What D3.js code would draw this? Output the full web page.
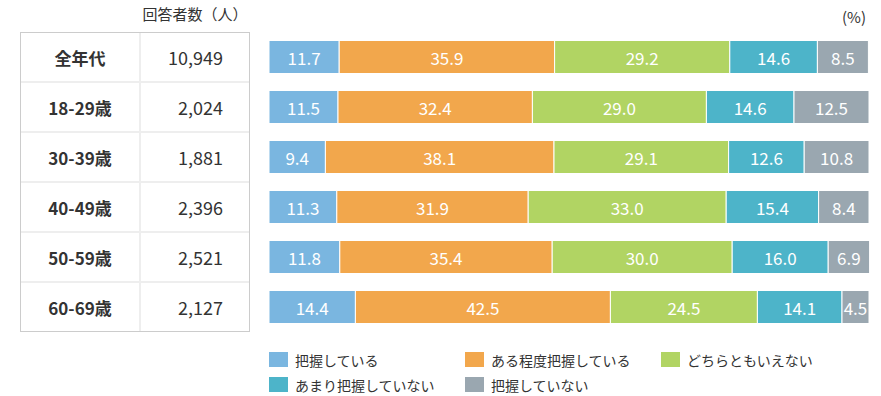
<!DOCTYPE html>
<html><head><meta charset="utf-8">
<script src="https://cdn.jsdelivr.net/npm/d3@7"></script>
<style>body{margin:0;background:#fff;} svg{display:block;font-family:"Noto Sans CJK JP","Noto Sans",sans-serif;}</style>
</head><body>
<svg id="c" width="881" height="396"></svg>
<script>
const categories = ["全年代","18-29歳","30-39歳","40-49歳","50-59歳","60-69歳"];
const respondents = ["10,949","2,024","1,881","2,396","2,521","2,127"];
const seriesNames = ["把握している","ある程度把握している","どちらともいえない","あまり把握していない","把握していない"];
const s1 = [11.7,11.5,9.4,11.3,11.8,14.4];
const s2 = [35.9,32.4,38.1,31.9,35.4,42.5];
const s3 = [29.2,29.0,29.1,33.0,30.0,24.5];
const s4 = [14.6,14.6,12.6,15.4,16.0,14.1];
const s5 = [8.5,12.5,10.8,8.4,6.9,4.5];
const colors = ["#7ab6e0","#f2a74c","#b1d463","#4db4c9","#9aa7b0"];

const svg = d3.select("#c");
const series = [s1,s2,s3,s4,s5];
const x = d3.scaleLinear().domain([0,100]).range([269,869]);
const y = d3.scaleBand().domain(categories).range([32,332]).paddingInner(0.34).paddingOuter(0.17);

// table
const rowH = 50, tTop = 32;
const tbl = svg.append("g");
tbl.append("rect").attr("x",20.5).attr("y",32.5).attr("width",229).attr("height",299).attr("fill","#fff").attr("stroke","#cccccc");
categories.forEach((c,i)=>{
  if(i>0) tbl.append("line").attr("x1",21).attr("x2",249).attr("y1",tTop+i*rowH).attr("y2",tTop+i*rowH).attr("stroke","#eeeeee").attr("stroke-width",2);
});
tbl.append("line").attr("x1",140).attr("x2",140).attr("y1",33).attr("y2",331).attr("stroke","#eeeeee").attr("stroke-width",2);
categories.forEach((c,i)=>{
  const cy = tTop + i*rowH + rowH/2;
  tbl.append("text").attr("x",80).attr("y",cy).attr("text-anchor","middle").attr("dominant-baseline","central")
    .attr("font-size",17).attr("font-weight","bold").attr("fill","#333").text(c);
  tbl.append("text").attr("x",223).attr("y",cy).attr("text-anchor","end").attr("dominant-baseline","central")
    .attr("font-size",18).attr("fill","#333").text(respondents[i]);
});
svg.append("text").attr("x",195).attr("y",13).attr("text-anchor","middle").attr("dominant-baseline","central")
  .attr("font-size",15).attr("fill","#333").text("回答者数（人）");
svg.append("text").attr("x",866).attr("y",16).attr("text-anchor","end").attr("dominant-baseline","central")
  .attr("font-size",15).attr("fill","#333").text("(%)");

// bars
categories.forEach((c,i)=>{
  let acc = 0;
  series.forEach((s,k)=>{
    const v = s[i];
    const x0 = x(acc), x1 = x(acc+v);
    svg.append("rect").attr("x",x0).attr("y",y(c)).attr("width",x1-x0).attr("height",y.bandwidth())
      .attr("fill",colors[k]).attr("stroke","#fff").attr("stroke-width",1);
    svg.append("text").attr("x",(x0+x1)/2).attr("y",y(c)+y.bandwidth()/2).attr("text-anchor","middle")
      .attr("dominant-baseline","central").attr("font-size",17).attr("fill","#fff").text(v.toFixed(1));
    acc += v;
  });
});

// legend
const legX = [269,465,661];
seriesNames.forEach((n,k)=>{
  const lx = legX[k%3], ly = 352 + Math.floor(k/3)*25;
  svg.append("rect").attr("x",lx).attr("y",ly).attr("width",19).attr("height",15).attr("fill",colors[k]);
  svg.append("text").attr("x",lx+26).attr("y",ly+7.5).attr("dominant-baseline","central")
    .attr("font-size",14).attr("fill","#333").text(n);
});
</script>
</body></html>
